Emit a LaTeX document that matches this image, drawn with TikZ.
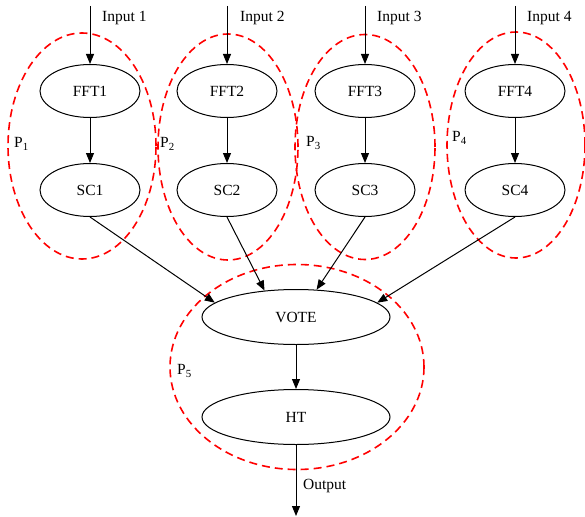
\documentclass[tikz,border=0pt]{standalone}
\usepackage{fontspec}
\setmainfont{Liberation Serif}
\usetikzlibrary{shapes.geometric,arrows.meta}
\begin{document}
\begin{tikzpicture}[x=1pt,y=-1pt,
  font=\fontsize{15.5}{18}\selectfont,
  blk/.style={ellipse,draw,line width=1pt,inner sep=0pt,minimum width=100pt,minimum height=53pt},
  wide/.style={blk,minimum width=188pt,minimum height=55pt},
  part/.style={ellipse,draw=red,line width=1.6pt,dash pattern=on 8pt off 5pt,inner sep=0pt},
  arr/.style={line width=1pt,-{Triangle[length=10pt,width=8pt]}},
  lbl/.style={inner sep=0pt,anchor=west}]
\useasboundingbox (0,0) rectangle (585,516);

% processing partitions
\node[part,minimum width=148pt,minimum height=226pt] (p1) at (82,146) {};
\node[part,minimum width=140pt,minimum height=226pt] (p2) at (228,147) {};
\node[part,minimum width=140pt,minimum height=225pt] (p3) at (365,147) {};
\node[part,minimum width=138pt,minimum height=226pt] (p4) at (516,145) {};
\node[part,minimum width=254pt,minimum height=205pt] (p5) at (297,367) {};

% blocks
\node[blk] (fft1) at (90,91) {FFT1};
\node[blk] (fft2) at (227,91) {FFT2};
\node[blk] (fft3) at (365,91) {FFT3};
\node[blk] (fft4) at (515,91) {FFT4};
\node[blk] (sc1) at (90,190) {SC1};
\node[blk] (sc2) at (227,190) {SC2};
\node[blk] (sc3) at (365,190) {SC3};
\node[blk] (sc4) at (515,190) {SC4};
\node[wide] (vote) at (296,317) {VOTE};
\node[wide] (ht) at (296,417) {HT};

% inputs and output
\coordinate (in1) at (90,6);
\coordinate (in2) at (227,6);
\coordinate (in3) at (365,6);
\coordinate (in4) at (515,6);
\coordinate (out) at (296,516);

\draw[arr] (in1) -- (fft1);
\draw[arr] (in2) -- (fft2);
\draw[arr] (in3) -- (fft3);
\draw[arr] (in4) -- (fft4);
\draw[arr] (fft1) -- (sc1);
\draw[arr] (fft2) -- (sc2);
\draw[arr] (fft3) -- (sc3);
\draw[arr] (fft4) -- (sc4);
\draw[arr] (sc1.south) -- (vote.170);
\draw[arr] (sc2.south) -- (vote.140);
\draw[arr] (sc3.south) -- (vote.53);
\draw[arr] (sc4.south) -- (vote.10);
\draw[arr] (vote) -- (ht);
\draw[arr] (ht) -- (out);

% labels
\node[lbl] (t1) at (102,18) {Input 1};
\node[lbl] (t2) at (240,18) {Input 2};
\node[lbl] (t3) at (377,18) {Input 3};
\node[lbl] (t4) at (527,18) {Input 4};
\node[lbl] (to) at (303,486) {Output};
\node[lbl] (l1) at (14,144) {P\textsubscript{1}};
\node[lbl] (l2) at (160,144) {P\textsubscript{2}};
\node[lbl] (l3) at (306,143) {P\textsubscript{3}};
\node[lbl] (l4) at (452,138) {P\textsubscript{4}};
\node[lbl] (l5) at (177,371) {P\textsubscript{5}};
\end{tikzpicture}
\end{document}
